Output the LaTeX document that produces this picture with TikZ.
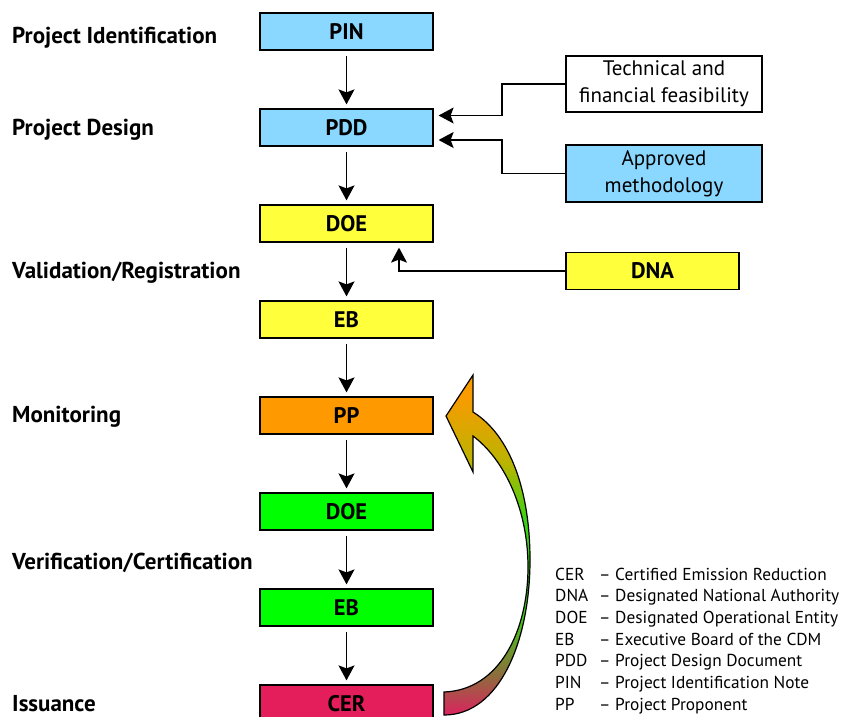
\documentclass[tikz,border=0pt]{standalone}
\usepackage{fontspec}
\setmainfont{PT Sans}
\usetikzlibrary{arrows.meta,calc}
\definecolor{cblue}{RGB}{138,216,255}
\definecolor{cyellow}{RGB}{255,255,60}
\definecolor{corange}{RGB}{255,153,0}
\definecolor{cgreen}{RGB}{0,255,0}
\definecolor{ccrimson}{RGB}{228,30,90}
\definecolor{gtop}{RGB}{250,155,0}
\definecolor{golive}{RGB}{185,180,0}
\definecolor{gmid}{RGB}{60,210,20}
\definecolor{gbrown}{RGB}{140,110,60}
\definecolor{gbot}{RGB}{220,35,95}
\pgfdeclareverticalshading{arrowgrad}{100bp}{color(0bp)=(gbot); color(25bp)=(gbot); color(31bp)=(gbrown);
  color(40bp)=(gmid); color(54bp)=(gmid); color(62bp)=(golive); color(72bp)=(gtop); color(100bp)=(gtop)}
\begin{document}
\begin{tikzpicture}[x=1pt,y=-1pt,
  box/.style={draw,line width=1.2pt,minimum width=173pt,minimum height=37pt,inner sep=0pt,
    font=\bfseries\fontsize{22.5}{24}\selectfont},
  sidebox/.style={draw,line width=1.2pt,minimum width=196pt,minimum height=56pt,inner sep=0pt,align=center,
    font=\fontsize{21}{27}\selectfont},
  lab/.style={anchor=base west,inner sep=0pt,font=\bfseries\fontsize{23}{26}\selectfont},
  leg/.style={anchor=base west,inner sep=0pt,font=\fontsize{17.3}{20}\selectfont},
  arr/.style={-{Stealth[length=15pt,width=16pt,inset=3pt]},line width=1.5pt,shorten <=5pt,shorten >=4pt},
  harr/.style={-{Stealth[length=15pt,width=16pt,inset=3pt]},line width=1.5pt,shorten >=5pt}]
\useasboundingbox (0,0) rectangle (842,716);
\clip (0,0) rectangle (842,716);
% main column
\node[box,fill=cblue] (pin) at (346.5,31.5) {PIN};
\node[box,fill=cblue] (pdd) at (346.5,127.5) {PDD};
\node[box,fill=cyellow] (doe) at (346.5,223.5) {DOE};
\node[box,fill=cyellow] (eb) at (346.5,319.5) {EB};
\node[box,fill=corange] (pp) at (346.5,415.5) {PP};
\node[box,fill=cgreen] (doe2) at (346.5,511.5) {DOE};
\node[box,fill=cgreen] (eb2) at (346.5,607.5) {EB};
\node[box,fill=ccrimson] (cer) at (346.5,703.5) {CER};
\foreach \a/\b in {pin/pdd,pdd/doe,doe/eb,eb/pp,pp/doe2,doe2/eb2,eb2/cer}
  \draw[arr] (\a) -- (\b);
% left labels
\node[lab] (l1) at (12,43) {Project Identification};
\node[lab] (l2) at (12,135) {Project Design};
\node[lab] (l3) at (12,278) {Validation/Registration};
\node[lab] (l4) at (12,422) {Monitoring};
\node[lab] (l5) at (12,569) {Verification/Certification};
\node[lab] (l6) at (12,711) {Issuance};
% side boxes
\node[sidebox,fill=white] (tech) at (664,84) {\raisebox{-2pt}{Technical and}\\\raisebox{-2pt}{financial feasibility}};
\node[sidebox,fill=cblue,minimum height=57pt] (appr) at (664,173.5) {\raisebox{-2pt}{Approved}\\\raisebox{-2pt}{methodology}};
\node[box,fill=cyellow] (dna) at (652.5,271) {DNA};
\coordinate (pddA) at ($(pdd.east)+(0,-12)$);
\coordinate (pddB) at ($(pdd.east)+(0,12.5)$);
\coordinate (doeA) at ($(doe.south)+(52.5,0)$);
\draw[harr] (tech.west) -- (502,84) |- (pddA);
\draw[harr] (appr.west) -- (502,173.5) |- (pddB);
\draw[harr] (dna.west) -| (doeA);
% curved feedback arrow
\shadedraw[line width=1.2pt,line join=miter,shading=arrowgrad]
  (444,692) .. controls (500,690) and (528,630) .. (528,567)
  .. controls (528,510) and (505,460) .. (473,436)
  -- (473,472) -- (446,416) -- (473,375) -- (473,412)
  .. controls (510,435) and (530,490) .. (530,560)
  .. controls (530,640) and (500,715) .. (444,715) -- cycle;
% legend
\foreach \k/\ab/\tx in {0/CER/Certified Emission Reduction,1/DNA/Designated National Authority,
  2/DOE/Designated Operational Entity,3/EB/Executive Board of the CDM,4/PDD/Project Design Document,
  5/PIN/Project Identification Note,6/PP/Project Proponent}{
  \node[leg] (ab\k) at (555,{580+21.7*\k}) {\ab};
  \node[leg] (tx\k) at (599,{580+21.7*\k}) {– \tx};
}
\end{tikzpicture}
\end{document}
